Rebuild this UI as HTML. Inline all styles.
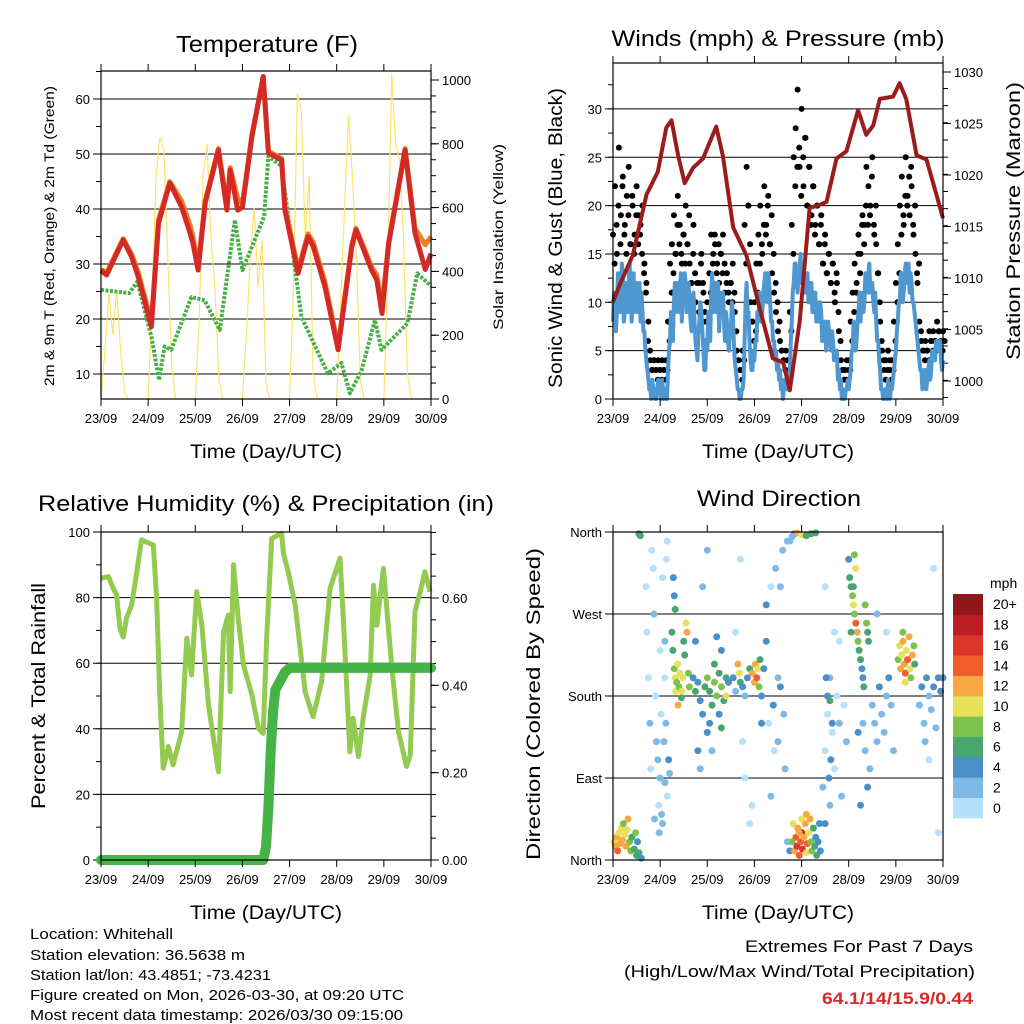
<!DOCTYPE html>
<html><head><meta charset="utf-8"><title>Weather station 7-day plots</title>
<style>
html,body{margin:0;padding:0;background:#fff;}
svg{display:block;font-family:"Liberation Sans",Arial,sans-serif;}
</style></head>
<body>
<svg id="c" width="1024" height="1024" viewBox="0 0 1024 1024" xmlns="http://www.w3.org/2000/svg">
<rect x="0" y="0" width="1024" height="1024" fill="#fff"/>
</svg>
<script>
// ---------- DATA ----------
const dayLabels = ["23/09","24/09","25/09","26/09","27/09","28/09","29/09","30/09"];

// Temperature (F)
const tempT   = [0,0.12,0.47,0.65,0.79,1.07,1.22,1.46,1.71,1.89,1.95,2.06,2.21,2.49,2.67,2.74,2.9,3.0,3.2,3.44,3.55,3.83,3.9,4.18,4.39,4.5,4.75,5.03,5.32,5.41,5.74,5.85,5.96,6.1,6.45,6.66,6.88,7.0];
const temp2m  = [28.8,28.0,34.4,31.3,27.7,18.6,37.4,44.7,40.4,35.6,33.8,28.9,41.1,50.7,39.8,47.1,39.8,40.3,53.1,64.1,50.2,48.9,39.8,28.3,35.0,33.3,25.9,14.4,33.1,36.2,28.9,27.1,21.0,33.6,50.7,35.6,29.0,31.9];
const temp9m  = [29,28.5,34.6,31.8,28.5,19.5,38,45,41.5,37,35,29.5,41.5,51,40.5,47.5,42,41,53.5,64,50.5,49.2,40.5,29,35.5,34,26.8,15,33.5,36.5,29.5,28,22,34,51,36.5,33.5,35];
const dewT    = [0,0.6,0.77,1.07,1.23,1.35,1.49,1.92,2.2,2.52,2.84,3.0,3.46,3.55,3.83,4.25,4.81,5.1,5.28,5.53,5.81,5.95,6.5,6.71,7.0];
const dewV    = [25.3,24.7,26.8,16.8,8.9,15,14.4,24,23.4,18,38,28.9,38.6,49.6,47.8,20.4,10.1,12,6.5,10.7,19.8,14.4,19.2,28.3,26];
// Solar insolation, 2-hourly (W/m2)
const solar = [
 0,150,330,200,340,150,20,0,0,0,0,0,
 0,300,700,820,780,450,100,0,0,0,0,0,
 0,250,700,800,500,350,60,0,0,0,0,0,
 0,200,450,600,350,500,50,0,0,0,0,0,
 0,350,960,900,500,700,80,0,0,0,0,0,
 0,300,600,890,700,450,60,0,0,0,0,0,
 0,400,1020,800,750,500,80,0,0,0,0,0,0];

// Winds, hourly (mph) at :00
const windV = [
 8,11,9,12,10,13,9,11,12,10,11,9,12,10,8,9,7,4,2,1,2,1,0,2,
 1,2,0,1,3,6,8,10,9,12,11,8,10,12,9,10,7,11,6,4,8,9,5,3,
 5,8,11,9,12,10,7,9,11,6,8,5,7,9,4,2,1,0,1,6,12,9,4,3,
 4,6,8,10,9,12,11,13,10,8,6,5,4,3,2,1,2,1,3,8,12,14,11,13,
 12,14,11,13,10,12,9,11,10,8,9,7,8,6,7,5,6,4,5,3,2,1,0,1,
 1,3,5,7,6,9,8,11,10,12,13,11,12,9,8,6,3,1,0,1,2,0,1,3,
 5,8,10,12,11,14,13,11,12,10,8,6,4,3,2,3,2,4,3,5,4,6,5,4,4];
// Winds at :30
const windHalf = [
 11,7,13,9,14,8,12,9,14,8,13,10,9,12,11,7,5,3,1,0,1,0,1,1,
 0,1,1,0,5,9,6,12,11,9,13,10,13,9,12,8,10,8,5,7,10,7,3,6,
 9,6,13,11,9,12,9,11,8,9,6,7,10,6,3,1,0,1,2,10,9,6,3,5,
 6,9,11,8,11,13,10,12,8,6,4,3,2,1,0,2,1,2,6,11,14,12,13,15,
 14,11,13,10,12,9,11,8,9,10,6,8,5,8,6,7,4,5,2,1,0,0,1,2,
 2,5,8,5,8,11,10,9,13,11,14,12,10,11,6,4,1,0,1,0,1,1,2,4,
 7,10,13,10,13,12,14,13,10,9,7,5,3,1,3,1,3,2,5,4,6,5,6,3];
const gustV = [
 17,22,15,26,19,23,18,21,24,16,20,17,22,19,18,20,14,12,8,4,3,4,3,4,
 3,4,3,4,8,14,16,19,15,21,18,14,17,20,16,14,12,18,10,7,12,15,11,8,
 10,13,17,15,16,14,12,15,17,11,13,10,12,14,9,5,4,3,5,18,24,20,10,8,
 10,14,17,20,15,22,18,21,16,13,11,9,7,6,5,4,5,4,9,18,25,28,32,24,
 30,22,27,20,24,19,22,18,20,16,19,14,17,13,15,12,14,10,12,7,4,3,3,4,
 4,8,11,14,12,17,15,19,18,24,22,20,25,17,16,13,8,5,3,4,5,3,4,8,
 12,16,20,23,18,25,21,19,22,17,15,12,8,6,5,6,5,7,6,7,6,8,7,6,7];
const gustV2 = [
 14,18,20,16,22,17,15,19,16,21,15,19,16,17,15,13,11,6,5,3,4,3,2,3,
 2,3,2,3,6,11,13,15,18,16,15,17,14,16,19,12,15,13,12,9,14,12,9,6,
 8,11,14,17,13,16,15,13,14,12,11,12,10,11,7,4,3,2,4,14,20,16,8,6,
 7,11,14,16,18,17,20,16,19,15,12,10,8,5,4,3,4,3,7,15,22,24,26,21,
 25,27,20,24,18,22,17,20,16,18,14,16,13,15,12,14,11,13,9,6,3,2,2,3,
 3,6,9,11,15,13,18,16,20,18,19,23,18,20,13,10,6,4,2,3,4,2,3,6,
 10,13,17,19,21,20,23,24,18,20,13,14,7,5,4,5,4,6,5,6,5,7,6,5,6];
const presT = [0,0.14,0.42,0.71,0.95,1.13,1.24,1.38,1.52,1.7,1.91,2.19,2.33,2.55,2.83,3.11,3.39,3.61,3.75,3.96,4.17,4.38,4.53,4.74,4.95,5.2,5.37,5.52,5.66,5.94,6.08,6.22,6.44,6.65,6.86,7.0];
const presV = [1007.7,1009.3,1012.2,1018.1,1020.3,1024.6,1025.3,1021.9,1019.2,1020.7,1021.6,1024.7,1021.9,1014.9,1012.2,1007.1,1002.2,1001.8,999.1,1005.8,1016.8,1017.1,1017.4,1021.6,1022.3,1026.3,1023.9,1024.8,1027.4,1027.6,1028.9,1027.4,1021.9,1021.5,1018.1,1015.8];

// Relative humidity (%)
const rhT = [0,0.16,0.26,0.33,0.4,0.47,0.54,0.65,0.76,0.86,1.11,1.18,1.25,1.32,1.43,1.53,1.71,1.82,1.92,2.03,2.14,2.28,2.49,2.6,2.7,2.74,2.81,2.91,3.02,3.2,3.34,3.44,3.51,3.62,3.83,3.87,3.97,4.12,4.33,4.5,4.68,4.86,5.07,5.14,5.28,5.35,5.46,5.57,5.71,5.78,5.85,5.99,6.17,6.31,6.48,6.56,6.66,6.77,6.87,6.98];
const rhV = [85.9,86.4,82.8,80.8,70.6,68,73.7,77.7,87.9,97.6,96,79.8,49.3,28,34.6,29,39,67.6,56.4,81.8,71.6,47.3,26.9,69.6,74.7,51.3,90,73.7,59.5,50.3,40.1,38.6,66.6,98,99.6,93.5,87.9,77.7,51.3,43.7,54.4,82.8,92,73.7,33,43.2,31.5,44.2,56.4,83.8,71.6,88.9,58.4,39.1,28.5,32,75.7,81.8,87.9,81.8];
// Precipitation (in)
const prT = [0,3.44,3.5,3.55,3.6,3.65,3.7,3.8,3.9,4.0,7.0];
const prV = [0,0,0.03,0.12,0.25,0.34,0.39,0.41,0.43,0.44,0.44];

// Wind direction observations: time (days), direction (deg), speed (mph)
const wdT = [0.02,0.05,0.08,0.1,0.12,0.15,0.18,0.2,0.22,0.25,0.28,0.3,0.32,0.35,0.38,0.4,0.45,0.5,0.52,0.55,0.55,0.58,0.6,0.48,
 0.7,0.72,0.75,0.78,0.8,0.82,0.85,0.87,0.9,0.92,0.95,0.97,1.0,1.0,1.02,1.05,1.05,1.08,1.1,1.1,1.12,1.15,1.15,1.18,1.2,0.98,1.03,0.88,1.1,1.13,
 1.25,1.27,1.3,1.32,1.33,1.35,1.37,1.4,1.42,1.45,1.3,1.28,1.32,1.5,1.52,1.55,1.57,1.6,1.62,1.48,1.46,1.38,
 1.7,1.75,1.8,1.85,1.9,1.95,2.0,2.05,2.1,2.15,2.2,2.25,2.3,2.35,2.4,2.05,2.0,2.1,1.8,1.85,2.25,2.3,2.4,2.45,1.75,1.9,2.0,2.2,2.3,2.15,
 2.55,2.6,2.65,2.68,2.7,2.75,2.8,2.85,2.9,2.95,3.0,3.02,3.05,3.08,3.1,3.12,3.15,2.8,2.7,2.6,2.75,2.9,2.95,3.2,3.15,
 3.25,3.25,3.3,3.35,3.4,3.45,3.5,3.5,3.55,3.55,3.6,3.62,3.65,3.7,3.7,3.75,3.35,3.42,
 3.8,3.82,3.85,3.88,3.9,3.92,3.95,3.98,4.0,4.02,4.05,4.08,4.1,4.12,4.15,4.18,4.2,4.22,4.25,4.28,4.3,4.32,4.35,4.38,4.4,4.0,4.1,3.95,
 3.85,3.9,4.0,4.1,4.2,4.3,3.8,3.75,
 4.45,4.5,4.55,4.6,4.6,4.65,4.7,4.75,4.8,4.85,4.8,4.7,4.9,4.95,4.5,4.52,4.55,4.6,4.65,4.62,4.58,4.5,
 5.0,5.02,5.05,5.08,5.1,5.12,5.15,5.18,5.2,5.22,5.25,5.28,5.3,5.32,5.35,5.38,5.4,5.42,5.15,5.1,5.05,5.3,5.35,5.4,5.45,5.2,5.25,5.12,
 5.5,5.55,5.6,5.65,5.7,5.75,5.8,5.85,5.9,5.95,5.6,5.8,
 6.05,6.08,6.1,6.12,6.15,6.18,6.2,6.22,6.25,6.28,6.3,6.32,6.35,6.38,6.4,6.2,6.15,
 6.5,6.55,6.6,6.62,6.65,6.7,6.75,6.8,6.85,6.9,6.95,7.0,6.9,6.8,6.7];
const wdDir = [20,15,25,10,30,18,35,22,40,28,15,33,45,20,10,25,12,5,20,8,358,356,2,30,
 300,250,200,150,100,340,320,270,180,130,110,60,90,230,160,310,40,130,85,240,150,70,350,110,95,30,50,45,200,330,
 250,230,210,200,185,195,215,190,205,178,290,310,275,240,225,260,250,205,190,200,185,170,
 200,185,195,175,160,190,200,185,170,195,180,205,190,175,200,150,140,120,120,100,160,145,180,195,240,300,340,245,230,215,
 200,185,215,205,195,190,180,200,210,205,195,215,200,210,190,220,180,90,330,250,130,40,60,210,150,
 280,240,150,70,170,320,200,130,300,190,340,160,100,20,350,10,300,120,
 20,40,10,25,15,35,5,20,30,12,25,40,8,18,30,45,20,10,35,15,25,5,20,40,10,45,50,30,
 358,359,357,356,358,359,355,350,
 80,120,160,60,200,140,100,180,150,70,240,250,170,130,300,200,180,175,150,110,90,40,
 330,310,300,290,280,270,260,250,240,230,220,210,200,190,280,260,250,240,320,300,250,150,120,80,100,140,60,335,
 170,150,130,190,160,140,180,200,170,120,270,250,
 220,235,210,225,240,215,205,230,220,245,210,200,225,235,215,195,250,
 170,190,150,130,200,180,165,190,145,200,185,200,30,320,110];
const wdSpd = [10,13,12,14,11,13,10,12,9,11,12,10,12,9,8,7,6,7,5,6,7,6,5,9,
 1,1,1,2,1,1,1,2,1,2,2,1,3,1,1,0,3,2,3,2,3,1,1,4,3,3,3,3,1,1,
 6,6,8,10,10,9,10,8,11,7,5,4,6,7,6,11,12,8,9,10,10,13,
 5,6,4,5,4,7,8,6,7,8,9,6,8,7,6,4,4,3,4,3,5,6,11,4,4,2,2,4,5,6,
 4,3,12,11,6,4,3,5,7,12,13,12,14,11,8,7,4,1,1,1,1,1,1,4,4,
 4,4,1,2,4,2,3,3,3,4,3,2,2,3,2,4,1,1,
 8,10,13,14,16,12,14,15,18,16,13,12,11,14,10,12,9,8,7,6,5,6,4,4,5,11,12,13,
 5,12,11,6,6,6,2,3,
 2,1,1,3,2,1,1,1,3,2,0,0,1,2,1,4,4,6,4,4,4,4,
 4,6,7,8,10,9,14,12,8,7,6,5,4,6,8,8,7,6,10,7,6,3,2,5,3,4,4,8,
 2,3,2,4,3,2,3,4,3,2,2,1,
 9,11,12,10,13,12,14,11,15,12,10,9,12,8,7,11,8,
 3,4,3,2,4,3,2,4,3,5,4,5,1,1,1];
const speedBins = ["0","2","4","6","8","10","12","14","16","18","20+"];
const speedColors = ["#b5e2f8","#7ebae5","#4a8fc7","#48a56f","#7dc24b","#e6e05b","#f7a744","#ef5e2b","#dd3529","#bb1e25","#8f1619"];

// ---------- DRAWING ----------
const NS = "http://www.w3.org/2000/svg";
const svg = document.getElementById("c");
function mk(tag, attrs, parent) {
  const e = document.createElementNS(NS, tag);
  for (const k in attrs) e.setAttribute(k, attrs[k]);
  (parent || svg).appendChild(e);
  return e;
}
function txt(s, x, y, size, anchor, parent, extra) {
  const e = mk("text", Object.assign({x: x, y: y, "font-size": size, "text-anchor": anchor || "start", fill: "#000"}, extra || {}), parent);
  e.textContent = s;
  return e;
}
function vtxt(s, cx, cy, size, len, parent) {
  const e = mk("text", {x: 0, y: 0, "font-size": size, "text-anchor": "middle", fill: "#000",
    transform: "translate(" + cx + "," + cy + ") rotate(-90)", textLength: len, lengthAdjust: "spacingAndGlyphs"}, parent);
  e.textContent = s;
  return e;
}
function polyPts(ts, vs, fx, fy) {
  return ts.map((t, i) => fx(t).toFixed(1) + "," + fy(vs[i]).toFixed(1)).join(" ");
}
function hourly(n) { const a = []; for (let i = 0; i < n; i++) a.push(i / 24); return a; }

function panelFrame(g, P) {
  for (let d = 0; d <= 7; d++) {
    const x = P.x0 + d * (P.x1 - P.x0) / 7;
    const tb = mk("line", {x1: x, y1: P.y1, x2: x, y2: P.y1 + 7, stroke: "#000", "stroke-width": 1}, g);
    
    
    const tt = mk("line", {x1: x, y1: P.y0, x2: x, y2: P.y0 - 7, stroke: "#000", "stroke-width": 1}, g);
    
    
    const l = txt(dayLabels[d], x, P.y1 + 24, 13, "middle", g);
    
    
  }
  const at = txt("Time (Day/UTC)", (P.x0 + P.x1) / 2, P.y1 + 59, 19, "middle", g, {textLength: 152, lengthAdjust: "spacingAndGlyphs"});
  
  
}
function boxRect(g, P) {
  const b = mk("rect", {x: P.x0, y: P.y0, width: P.x1 - P.x0, height: P.y1 - P.y0, fill: "none", stroke: "#000", "stroke-width": 1.2}, g);
  
  
}
function leftAxis(g, P, fy, vals, labels, minor, grid) {
  minor.forEach(v => {
    const y = fy(v);
    const t = mk("line", {x1: P.x0 - 5, y1: y, x2: P.x0, y2: y, stroke: "#000", "stroke-width": 1}, g);
    
    
  });
  vals.forEach((v, i) => {
    const y = fy(v);
    if (grid) {
      const gl = mk("line", {x1: P.x0 - 8, y1: y, x2: P.x1, y2: y, stroke: "#000", "stroke-width": 1}, g);
      
      
    } else {
      const t = mk("line", {x1: P.x0 - 8, y1: y, x2: P.x0, y2: y, stroke: "#000", "stroke-width": 1}, g);
      
      
    }
    const l = txt(labels[i], P.x0 - 11, y + 5, 13, "end", g);
    
    
  });
}
function rightAxis(g, P, fy, vals, labels, minor) {
  minor.forEach(v => {
    const y = fy(v);
    const t = mk("line", {x1: P.x1, y1: y, x2: P.x1 + 5, y2: y, stroke: "#000", "stroke-width": 1}, g);
    
    
  });
  vals.forEach((v, i) => {
    const y = fy(v);
    const t = mk("line", {x1: P.x1, y1: y, x2: P.x1 + 8, y2: y, stroke: "#000", "stroke-width": 1}, g);
    
    
    const l = txt(labels[i], P.x1 + 11, y + 5, 13, "start", g);
    
    
  });
}
function range(a, b, s) { const r = []; for (let v = a; v <= b + 1e-9; v += s) r.push(+v.toFixed(4)); return r; }

// ===== Panel 1: Temperature =====
(function () {
  const P = {x0: 101, x1: 431, y0: 71, y1: 399};
  const fx = d => P.x0 + d * (P.x1 - P.x0) / 7;
  const fy = v => 374 - (v - 10) * 5.5;
  const fr = v => 399 - v * 0.319;
  const g = mk("g", {});
  
  
  const t = txt("Temperature (F)", 267, 52, 23, "middle", g, {textLength: 182, lengthAdjust: "spacingAndGlyphs"});
  
  
  leftAxis(g, P, fy, [10,20,30,40,50,60], ["10","20","30","40","50","60"], range(10, 65, 5), true);
  rightAxis(g, P, fr, [0,200,400,600,800,1000], ["0","200","400","600","800","1000"], range(0, 1000, 50));
  const sol = mk("polyline", {points: polyPts(solar.map((_, i) => i / 12), solar, fx, fr), fill: "none", stroke: "#fde36a", "stroke-width": 1.2}, g);
  
  
  const dew = mk("polyline", {points: polyPts(dewT, dewV, fx, fy), fill: "none", stroke: "#47b046", "stroke-width": 4, "stroke-dasharray": "3 1.5", "stroke-linejoin": "round"}, g);
  
  
  const o = mk("polyline", {points: polyPts(tempT, temp9m, fx, fy), fill: "none", stroke: "#f07f2a", "stroke-width": 5, "stroke-linejoin": "round"}, g);
  
  
  const r = mk("polyline", {points: polyPts(tempT, temp2m, fx, fy), fill: "none", stroke: "#d42a26", "stroke-width": 5, "stroke-linejoin": "round"}, g);
  
  
  boxRect(g, P);
  panelFrame(g, P);
  const yl = vtxt("2m & 9m T (Red, Orange) & 2m Td (Green)", 54, 236, 14, 300, g);
  
  
  const yr = vtxt("Solar Insolation (Yellow)", 503, 237, 14, 186, g);
  
  
})();

// ===== Panel 2: Winds & Pressure =====
(function () {
  const P = {x0: 613, x1: 943, y0: 63, y1: 399};
  const fx = d => P.x0 + d * (P.x1 - P.x0) / 7;
  const fy = v => 399 - v * 9.67;
  const fp = p => 381 - (p - 1000) * 10.3;
  const g = mk("g", {});
  
  
  const t = txt("Winds (mph) & Pressure (mb)", 778, 46, 22, "middle", g, {textLength: 333, lengthAdjust: "spacingAndGlyphs"});
  
  
  leftAxis(g, P, fy, [0,5,10,15,20,25,30], ["0","5","10","15","20","25","30"], range(0, 32.5, 2.5), true);
  rightAxis(g, P, fp, [1000,1005,1010,1015,1020,1025,1030], ["1000","1005","1010","1015","1020","1025","1030"], range(998.4, 1030, 5/3));
  const ht = hourly(gustV.length);
  const gg = mk("g", {}, g);
  
  
  [gustV, gustV2].forEach((arr, k) => arr.forEach((v, i) => {
    const c = mk("circle", {cx: (fx(ht[i]) + k * 1.6).toFixed(1), cy: fy(v).toFixed(1), r: 3, fill: "#000"}, gg);
    
    
  }));
  // interleave :00 and :30 wind samples
  const wT = [], wV = [];
  windV.forEach((v, i) => {
    wT.push(i / 24); wV.push(v);
    if (i < windHalf.length) { wT.push((i + 0.5) / 24); wV.push(windHalf[i]); }
  });
  const w = mk("polyline", {points: polyPts(wT, wV, fx, fy), fill: "none", stroke: "#4f97d1", "stroke-width": 4, "stroke-linejoin": "round"}, g);
  
  
  const p = mk("polyline", {points: polyPts(presT, presV, fx, fp), fill: "none", stroke: "#9b1c1c", "stroke-width": 4, "stroke-linejoin": "round"}, g);
  
  
  boxRect(g, P);
  panelFrame(g, P);
  const yl = vtxt("Sonic Wind & Gust (Blue, Black)", 562, 238, 19, 300, g);
  
  
  const yr = vtxt("Station Pressure (Maroon)", 1020, 221, 19, 278, g);
  
  
})();

// ===== Panel 3: RH & Precip =====
(function () {
  const P = {x0: 101, x1: 431, y0: 532, y1: 860};
  const fx = d => P.x0 + d * (P.x1 - P.x0) / 7;
  const fy = v => 860 - v * 3.28;
  const fp = v => 860 - v * 436.7;
  const g = mk("g", {});
  
  
  const t = txt("Relative Humidity (%) & Precipitation (in)", 266, 511, 22, "middle", g, {textLength: 456, lengthAdjust: "spacingAndGlyphs"});
  
  
  leftAxis(g, P, fy, [0,20,40,60,80,100], ["0","20","40","60","80","100"], range(0, 100, 10), true);
  rightAxis(g, P, fp, [0,0.2,0.4,0.6], ["0.00","0.20","0.40","0.60"], range(0, 0.75, 0.05));
  const rh = mk("polyline", {points: polyPts(rhT, rhV, fx, fy), fill: "none", stroke: "#92cb50", "stroke-width": 5, "stroke-linejoin": "round"}, g);
  
  
  const pr = mk("polyline", {points: polyPts(prT, prV, fx, fp), fill: "none", stroke: "#45b345", "stroke-width": 10, "stroke-linejoin": "round", "stroke-linecap": "round"}, g);
  
  
  boxRect(g, P);
  panelFrame(g, P);
  const yl = vtxt("Percent & Total Rainfall", 45, 696, 19, 226, g);
  
  
})();

// ===== Panel 4: Wind Direction =====
(function () {
  const P = {x0: 613, x1: 943, y0: 532, y1: 860};
  const fx = d => P.x0 + d * (P.x1 - P.x0) / 7;
  const fy = v => 860 - v * 328 / 360;
  const g = mk("g", {});
  
  
  const t = txt("Wind Direction", 779, 506, 22, "middle", g, {textLength: 164, lengthAdjust: "spacingAndGlyphs"});
  
  
  leftAxis(g, P, fy, [0,90,180,270,360], ["North","East","South","West","North"], [], true);
  const dg = mk("g", {}, g);
  
  
  wdT.forEach((d, i) => {
    const bin = Math.min(10, Math.floor(wdSpd[i] / 2));
    const c = mk("circle", {cx: fx(d).toFixed(1), cy: fy(wdDir[i]).toFixed(1), r: 3.5, fill: speedColors[bin]}, dg);
    
    
  });
  boxRect(g, P);
  panelFrame(g, P);
  const yl = vtxt("Direction (Colored By Speed)", 540, 704, 19, 312, g);
  
  
  const cb = mk("g", {}, g);
  
  
  const h = (818 - 594) / speedBins.length;
  speedBins.forEach((lab, i) => {
    const y = 818 - (i + 1) * h;
    const r = mk("rect", {x: 953, y: y.toFixed(1), width: 30, height: (h + 0.4).toFixed(1), fill: speedColors[i]}, cb);
    
    
    const l = txt(lab, 993, (y + h / 2 + 5).toFixed(1), 14, "start", cb);
    
    
  });
  const u = txt("mph", 990, 588, 14, "start", cb);
  
  
})();

// ===== Footer text =====
(function () {
  const g = mk("g", {});
  
  
  const lines = [["Location: Whitehall", 939, 143], ["Station elevation: 36.5638 m", 960, 215], ["Station lat/lon: 43.4851; -73.4231", 980, 241], ["Figure created on Mon, 2026-03-30, at 09:20 UTC", 1000, 374], ["Most recent data timestamp: 2026/03/30 09:15:00", 1020, 373]];
  lines.forEach(L => {
    const e = txt(L[0], 30, L[1], 15, "start", g, {textLength: L[2], lengthAdjust: "spacingAndGlyphs"});
    
    
  });
  const g2 = mk("g", {});
  
  
  const a = txt("Extremes For Past 7 Days", 973, 952, 17, "end", g2, {textLength: 228, lengthAdjust: "spacingAndGlyphs"});
  
  
  const b = txt("(High/Low/Max Wind/Total Precipitation)", 975, 977, 17, "end", g2, {textLength: 351, lengthAdjust: "spacingAndGlyphs"});
  
  
  const c = txt("64.1/14/15.9/0.44", 973, 1004, 17, "end", g2, {fill: "#d42a2a", "font-weight": "bold", textLength: 151, lengthAdjust: "spacingAndGlyphs"});
  
  
})();
</script>
</body></html>
